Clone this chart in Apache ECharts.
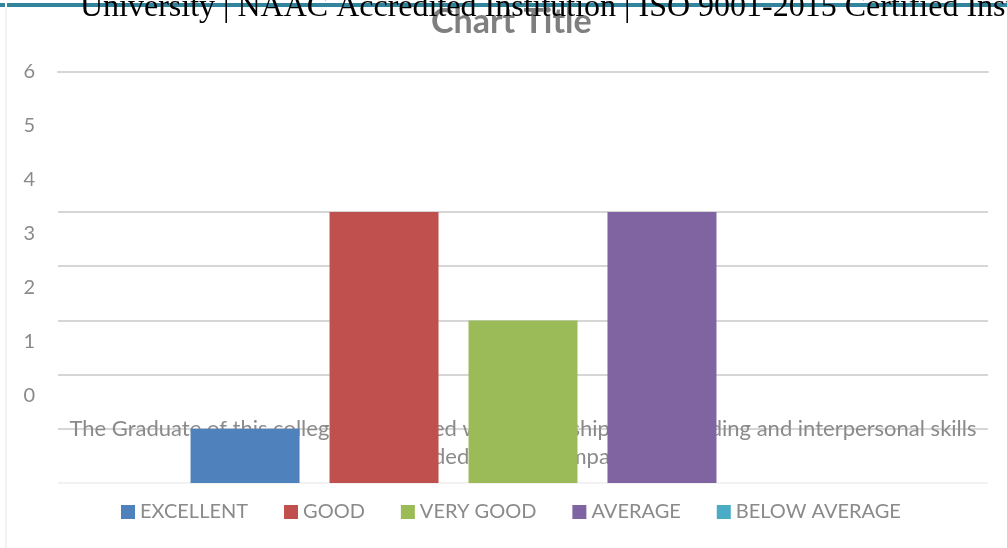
<!DOCTYPE html>
<html>
<head>
<meta charset="utf-8">
<script src="https://cdn.jsdelivr.net/npm/echarts@6/dist/echarts.min.js"></script>
<style>
  html, body { margin: 0; padding: 0; background: #fff; }
  #chart { width: 1007px; height: 548px; }
</style>
</head>
<body>
<div id="chart"></div>
<script>
// data
var seriesNames = ['EXCELLENT', 'GOOD', 'VERY GOOD', 'AVERAGE', 'BELOW AVERAGE'];
var seriesValues = [1, 5, 3, 5, 0];
var seriesColors = ['#4f81bd', '#c0504d', '#9bbb59', '#8064a2', '#4bacc6'];
var category = ['The Graduate of this college is equipped with leadership, team building and interpersonal skills\nneeded for the companies'];
var tickLabels = ['0', '1', '2', '3', '4', '5', '6'];
var headerText = 'University | NAAC Accredited Institution | ISO 9001-2015 Certified Institution';

var grey = '#8a8a8a';
var gridGrey = '#d6d6d6';

var myChart = echarts.init(document.getElementById('chart'));

var series = seriesNames.map(function (name, i) {
    return {
        name: name,
        type: 'bar',
        xAxisIndex: 2,
        yAxisIndex: 1,
        barWidth: 109,
        barGap: '27.5%',
        itemStyle: { color: seriesColors[i] },
        data: [seriesValues[i]]
    };
});

var option = {
    animation: false,
    title: {
        text: 'Chart Title',
        left: 426,
        top: 0,
        textStyle: { fontFamily: 'Lato', fontWeight: 'bold', fontSize: 34, color: '#7f7f7f' }
    },
    legend: {
        data: seriesNames,
        left: 116,
        top: 497,
        itemWidth: 14,
        itemHeight: 14,
        itemGap: 36,
        icon: 'rect',
        textStyle: { fontFamily: 'Lato', fontSize: 20, color: grey }
    },
    grid: [
        // grid carrying the (shifted) tick labels and text
        { left: 58, right: 19, top: 72, bottom: 152 },
        // grid carrying the bars
        { left: 58, right: 19, top: 212, bottom: 65 }
    ],
    xAxis: [
        {
            gridIndex: 0,
            type: 'category',
            data: category,
            axisLine: { show: false },
            axisTick: { show: false },
            axisLabel: {
                interval: 0,
                margin: 19,
                fontFamily: 'Lato',
                fontSize: 22,
                lineHeight: 28,
                color: grey
            }
        },
        {
            gridIndex: 0,
            type: 'category',
            position: 'top',
            data: [''],
            axisLine: { show: true, lineStyle: { color: gridGrey, width: 2 } },
            axisTick: { show: false },
            axisLabel: { show: false }
        },
        {
            gridIndex: 1,
            type: 'category',
            data: [''],
            axisLine: { show: false },
            axisTick: { show: false },
            axisLabel: { show: false }
        }
    ],
    yAxis: [
        {
            gridIndex: 0,
            type: 'value',
            min: 0,
            max: 6,
            interval: 1,
            axisLine: { show: false },
            axisTick: { show: false },
            splitLine: { show: false },
            axisLabel: {
                margin: 23,
                fontFamily: 'Lato',
                fontSize: 20,
                color: grey,
                formatter: function (v) { return tickLabels[v]; }
            }
        },
        {
            gridIndex: 1,
            type: 'value',
            min: 0,
            max: 5,
            interval: 1,
            axisLine: { show: false },
            axisTick: { show: false },
            axisLabel: { show: false },
            splitLine: {
                show: true,
                lineStyle: {
                    width: 2,
                    color: ['#f2f2f2', gridGrey, gridGrey, gridGrey, gridGrey, gridGrey]
                }
            }
        }
    ],
    graphic: [
        { type: 'rect', shape: { x: 0, y: 3, width: 5, height: 4 }, style: { fill: '#31849b' }, z: 100 },
        { type: 'rect', shape: { x: 7, y: 3, width: 1000, height: 4 }, style: { fill: '#31849b' }, z: 100 },
        { type: 'rect', shape: { x: 5, y: 8, width: 2, height: 540 }, style: { fill: '#f2f2f2' }, z: 100 },
        {
            type: 'text',
            x: 80,
            y: 8,
            z: 101,
            style: {
                text: headerText,
                font: '32px "Liberation Serif"',
                fill: '#000',
                textAlign: 'left',
                textVerticalAlign: 'middle'
            }
        }
    ],
    series: series
};

myChart.setOption(option);
</script>
</body>
</html>
